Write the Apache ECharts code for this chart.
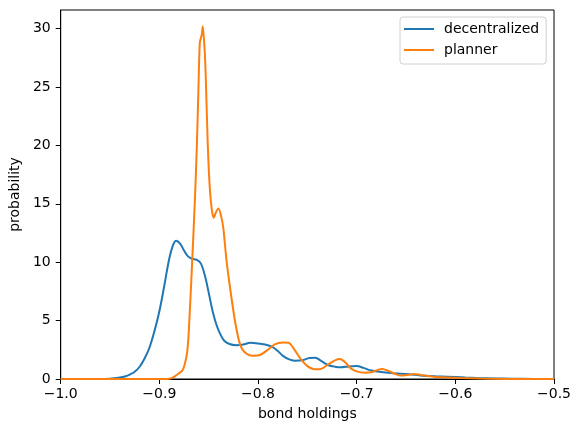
<!DOCTYPE html>
<html>
<head>
<meta charset="utf-8">
<script src="https://cdn.jsdelivr.net/npm/echarts@6/dist/echarts.min.js"></script>
<style>
  html, body { margin: 0; padding: 0; background: #fff; }
  #chart { width: 580px; height: 433px; }
</style>
</head>
<body>
<div id="chart"></div>
<script>
// 数据：核密度曲线
const decentralizedX = [-1.0, -0.96, -0.95, -0.945, -0.94, -0.935, -0.93, -0.925, -0.92, -0.915, -0.91, -0.905, -0.90, -0.895, -0.89, -0.886, -0.883, -0.879, -0.875, -0.871, -0.867, -0.862, -0.858, -0.854, -0.85, -0.846, -0.842, -0.838, -0.834, -0.829, -0.822, -0.815, -0.808, -0.80, -0.793, -0.786, -0.78, -0.775, -0.769, -0.763, -0.755, -0.748, -0.742, -0.736, -0.729, -0.722, -0.716, -0.708, -0.70, -0.693, -0.685, -0.675, -0.662, -0.65, -0.635, -0.62, -0.608, -0.59, -0.578, -0.56, -0.544, -0.52, -0.5];
const decentralizedY = [0, 0, 0.03, 0.07, 0.12, 0.22, 0.38, 0.62, 1.05, 1.75, 2.7, 4.1, 5.8, 8.0, 10.3, 11.5, 11.85, 11.6, 11.0, 10.5, 10.3, 10.2, 9.9, 8.9, 7.4, 5.8, 4.6, 3.8, 3.25, 3.0, 2.9, 2.95, 3.1, 3.05, 2.95, 2.77, 2.4, 2.0, 1.7, 1.57, 1.6, 1.8, 1.82, 1.55, 1.2, 1.05, 1.0, 1.08, 1.11, 0.95, 0.72, 0.6, 0.5, 0.42, 0.31, 0.24, 0.2, 0.13, 0.09, 0.05, 0.03, 0.01, 0];

const plannerX = [-1.0, -0.895, -0.89, -0.887, -0.884, -0.88, -0.877, -0.875, -0.872, -0.8703, -0.867, -0.864, -0.862, -0.8605, -0.859, -0.857, -0.856, -0.854, -0.853, -0.851, -0.849, -0.847, -0.845, -0.842, -0.84, -0.837, -0.835, -0.832, -0.828, -0.823, -0.818, -0.813, -0.806, -0.798, -0.79, -0.783, -0.775, -0.769, -0.763, -0.756, -0.75, -0.744, -0.738, -0.733, -0.728, -0.722, -0.717, -0.712, -0.706, -0.70, -0.692, -0.684, -0.678, -0.674, -0.668, -0.66, -0.655, -0.648, -0.642, -0.635, -0.622, -0.61, -0.595, -0.575, -0.55, -0.5];
const plannerY = [0, 0, 0.03, 0.1, 0.25, 0.5, 0.7, 1.05, 2.2, 3.9, 9.6, 15.3, 20, 24.5, 28.8, 29.5, 30.2, 28, 25.9, 20.2, 16.5, 14.6, 13.8, 14.4, 14.6, 13.8, 12.8, 10.2, 7.6, 4.8, 2.9, 2.25, 2.0, 2.06, 2.5, 2.97, 3.12, 3.1, 2.5, 1.63, 1.1, 0.85, 0.83, 1.0, 1.3, 1.6, 1.71, 1.45, 0.91, 0.65, 0.54, 0.6, 0.8, 0.86, 0.7, 0.4, 0.29, 0.35, 0.43, 0.35, 0.2, 0.14, 0.09, 0.04, 0.01, 0];

const xTicks = [-1.0, -0.9, -0.8, -0.7, -0.6, -0.5];
const yTicks = [0, 5, 10, 15, 20, 25, 30];

const seriesNames = ['decentralized', 'planner'];
const colorArr = ['#1f77b4', '#ff7f0e'];

const dom = document.getElementById('chart');
const myChart = echarts.init(dom);

function toPairs(xs, ys) {
    return xs.map((x, i) => [x, ys[i]]);
}

// 用数学减号显示负数
function fmtX(v) {
    const s = Math.abs(v).toFixed(1);
    return v < 0 ? '\u2212' + s : s;
}

const fontFamily = 'DejaVu Sans';

const option = {
    backgroundColor: '#fff',
    animation: false,
    textStyle: { fontFamily: fontFamily },
    grid: {
        left: 58,
        right: 26,
        top: 10,
        bottom: 54,
        show: true,
        borderColor: '#000',
        borderWidth: 1,
        containLabel: false
    },
    legend: {
        orient: 'vertical',
        left: 400,
        top: 17,
        padding: [5, 7, 7, 4],
        itemWidth: 30,
        itemHeight: 2,
        itemGap: 7,
        icon: 'rect',
        borderColor: '#d0d0d0',
        borderWidth: 1,
        borderRadius: 3,
        backgroundColor: 'rgba(255,255,255,0.8)',
        textStyle: {
            fontFamily: fontFamily,
            fontSize: 14,
            lineHeight: 14,
            color: '#000',
            padding: [0, 0, 0, 5]
        },
        data: seriesNames
    },
    xAxis: {
        type: 'value',
        min: -1.0,
        max: -0.5,
        interval: 0.1,
        name: 'bond holdings',
        nameLocation: 'middle',
        nameGap: 28,
        nameTextStyle: { fontFamily: fontFamily, fontSize: 14, color: '#000' },
        splitLine: { show: false },
        axisLine: { onZero: false, lineStyle: { color: '#000', width: 1 } },
        axisTick: { show: true, length: 5, lineStyle: { color: '#000' }, customValues: xTicks },
        axisLabel: {
            fontFamily: fontFamily,
            fontSize: 14,
            color: '#000',
            margin: 8,
            customValues: xTicks,
            formatter: fmtX
        }
    },
    yAxis: {
        type: 'value',
        min: 0,
        max: 31.6,
        interval: 5,
        name: 'probability',
        nameLocation: 'middle',
        nameGap: 34,
        nameTextStyle: { fontFamily: fontFamily, fontSize: 14, color: '#000' },
        splitLine: { show: false },
        axisLine: { show: true, lineStyle: { color: '#000', width: 1 } },
        axisTick: { show: true, length: 5, lineStyle: { color: '#000' }, customValues: yTicks },
        axisLabel: {
            fontFamily: fontFamily,
            fontSize: 14,
            color: '#000',
            margin: 10,
            customValues: yTicks
        }
    },
    series: [
        {
            name: seriesNames[0],
            type: 'line',
            data: toPairs(decentralizedX, decentralizedY),
            smooth: 0.35,
            symbol: 'none',
            clip: true,
            lineStyle: { color: colorArr[0], width: 2 },
            itemStyle: { color: colorArr[0] }
        },
        {
            name: seriesNames[1],
            type: 'line',
            data: toPairs(plannerX, plannerY),
            smooth: 0.25,
            symbol: 'none',
            clip: true,
            lineStyle: { color: colorArr[1], width: 2 },
            itemStyle: { color: colorArr[1] }
        }
    ]
};

myChart.setOption(option);
</script>
</body>
</html>
